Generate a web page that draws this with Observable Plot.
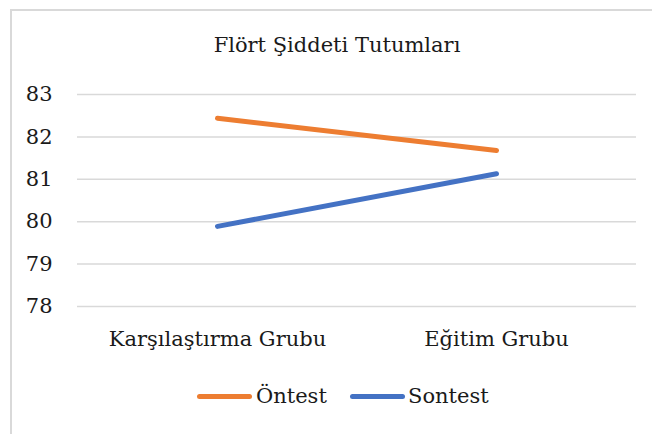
<!DOCTYPE html>
<html>
<head>
<meta charset="utf-8">
<script src="https://cdn.jsdelivr.net/npm/d3@7"></script>
<script src="https://cdn.jsdelivr.net/npm/@observablehq/plot@0.6"></script>
<style>
  html, body { margin: 0; padding: 0; background: #fff; }
  #wrap { position: relative; width: 652px; height: 434px; overflow: hidden; font-family: "DejaVu Serif", serif; }
  #border { position: absolute; left: 10px; top: 9px; width: 660px; height: 440px; border: 2px solid #d9d9d9; box-sizing: border-box; }
  #title { position: absolute; left: 0; width: 674px; top: 33px; text-align: center; font-size: 21px; line-height: 24px; color: #1a1a1a; }
  #chart { position: absolute; left: 0; top: 0; }
  #legend { position: absolute; top: 383px; left: 0; width: 652px; height: 26px; font-size: 21px; color: #1a1a1a; }
  .sw { position: absolute; top: 11px; width: 55px; height: 5px; border-radius: 3px; }
  .lt { position: absolute; top: 0; line-height: 26px; white-space: nowrap; }
</style>
</head>
<body>
<div id="wrap">
  <div id="border"></div>
  <div id="chart"></div>
  <div id="title"></div>
  <div id="legend"></div>
</div>
<script>
const titleText = "Flört Şiddeti Tutumları";
const categories = ["Karşılaştırma Grubu", "Eğitim Grubu"];
const seriesNames = ["Öntest", "Sontest"];
const ontest = [82.44, 81.68];
const sontest = [79.89, 81.13];
const yTicks = [78, 79, 80, 81, 82, 83];
const colors = ["#ed7d31", "#4472c4"];

const data = [];
categories.forEach((c, i) => {
  data.push({group: categories[i], series: seriesNames[0], value: ontest[i]});
  data.push({group: categories[i], series: seriesNames[1], value: sontest[i]});
});

const font = '"DejaVu Serif", serif';

const chart = Plot.plot({
  width: 652,
  height: 434,
  marginLeft: 77,
  marginRight: 16,
  marginTop: 94,
  marginBottom: 128,
  style: {fontFamily: font, fontSize: "21px", color: "#1a1a1a", background: "transparent", overflow: "visible"},
  x: {type: "point", domain: categories, padding: 0.5, label: null},
  y: {domain: [78, 83], label: null},
  color: {domain: seriesNames, range: colors},
  marks: [
    Plot.gridY(yTicks, {stroke: "#d9d9d9", strokeOpacity: 1, strokeWidth: 1.5}),
    Plot.axisY(yTicks, {tickSize: 0, tickPadding: 25, fontSize: 21, fontFamily: font, label: null}),
    Plot.axisX({tickSize: 0, tickPadding: 25, fontSize: 21, fontFamily: font, label: null}),
    Plot.line(data, {x: "group", y: "value", z: "series", stroke: "series", strokeWidth: 5, strokeLinecap: "round"})
  ]
});
document.getElementById("chart").appendChild(chart);
document.getElementById("title").textContent = titleText;

const legend = document.getElementById("legend");
const swLefts = [197, 350];
const txtLefts = [256, 408];
seriesNames.forEach((s, i) => {
  const sw = document.createElement("div");
  sw.className = "sw";
  sw.style.left = swLefts[i] + "px";
  sw.style.background = colors[i];
  const t = document.createElement("span");
  t.className = "lt";
  t.style.left = txtLefts[i] + "px";
  t.textContent = s;
  legend.appendChild(sw); legend.appendChild(t);
});
</script>
</body>
</html>
